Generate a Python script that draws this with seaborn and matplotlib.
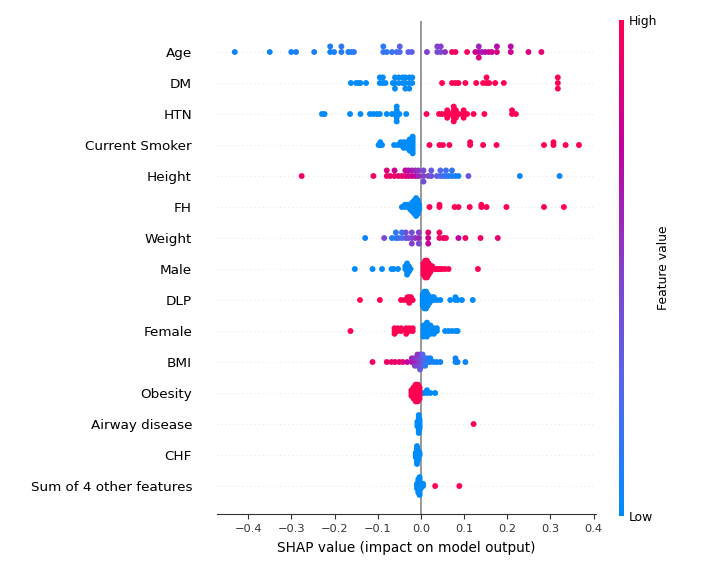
import warnings
import numpy as np
import pandas as pd
import matplotlib
matplotlib.use("Agg")
import matplotlib.pyplot as plt
import seaborn as sns
from matplotlib.colors import LinearSegmentedColormap, Normalize
from matplotlib.cm import ScalarMappable

warnings.filterwarnings("ignore")

# ---------------- data ----------------
features = ["Age", "DM", "HTN", "Current Smoker", "Height", "FH", "Weight",
            "Male", "DLP", "Female", "BMI", "Obesity", "Airway disease",
            "CHF", "Sum of 4 other features"]

# continuous features: shap value + scaled feature value (0 = low, 1 = high)
age_shap = [-0.431, -0.350, -0.300, -0.289, -0.247, -0.210, -0.210, -0.201, -0.184, -0.184,
            -0.168, -0.161, -0.155, -0.087, -0.087, -0.079, -0.067, -0.056, -0.049, -0.049,
            -0.029, -0.021, 0.014, 0.038, 0.038, 0.046, 0.046, 0.056, 0.072, 0.080,
            0.107, 0.126, 0.134, 0.134, 0.134, 0.141, 0.149, 0.157, 0.164, 0.176,
            0.176, 0.208, 0.208, 0.249, 0.279]
age_val = [0.05, 0.05, 0.08, 0.08, 0.1, 0.05, 0.1, 0.08, 0.12, 0.15,
           0.1, 0.12, 0.12, 0.15, 0.12, 0.15, 0.18, 0.2, 0.25, 0.3,
           0.28, 0.3, 0.5, 0.45, 0.48, 0.42, 0.5, 0.55, 0.95, 0.95,
           0.95, 0.8, 0.75, 0.6, 0.85, 0.65, 0.7, 0.75, 0.8, 0.85,
           0.7, 0.8, 0.7, 0.85, 0.9]

height_shap = [-0.276, -0.110, -0.079, -0.079, -0.071, -0.061, -0.061, -0.052, -0.044, -0.036,
               -0.036, -0.029, -0.029, -0.021, -0.021, -0.013, -0.013, -0.006, -0.006, 0.006,
               0.006, 0.006, 0.017, 0.024, 0.024, 0.037, 0.045, 0.045, 0.052, 0.058,
               0.058, 0.065, 0.072, 0.072, 0.080, 0.087, 0.110, 0.229, 0.321]
height_val = [0.95, 0.95, 0.95, 0.85, 0.9, 0.95, 0.8, 0.9, 0.9, 0.85,
              0.75, 0.85, 0.7, 0.8, 0.65, 0.75, 0.6, 0.6, 0.55, 0.5,
              0.45, 0.4, 0.45, 0.4, 0.35, 0.3, 0.3, 0.25, 0.2, 0.15,
              0.2, 0.1, 0.1, 0.15, 0.1, 0.05, 0.35, 0.05, 0.05]

weight_shap = [-0.129, -0.085, -0.067, -0.058, -0.058, -0.052, -0.044, -0.044, -0.035, -0.035,
               -0.029, -0.021, -0.021, -0.021, -0.013, -0.005, -0.005, -0.005, 0.017, 0.017,
               0.017, 0.043, 0.043, 0.052, 0.058, 0.087, 0.103, 0.138, 0.178]
weight_val = [0.05, 0.45, 0.1, 0.1, 0.15, 0.2, 0.2, 0.15, 0.35, 0.4,
              0.4, 0.45, 0.4, 0.5, 0.55, 0.6, 0.5, 0.45, 0.8, 0.9,
              0.75, 0.95, 0.95, 0.9, 0.95, 0.75, 0.95, 0.95, 0.9]

bmi_shap = [-0.112, -0.079, -0.068, -0.060, -0.050, -0.042, -0.032, -0.021, -0.021, -0.014,
            -0.014, -0.014, -0.008, -0.008, -0.008, -0.008, -0.002, -0.002, -0.002, -0.002,
            -0.002, 0.004, 0.004, 0.004, 0.004, 0.010, 0.010, 0.010, 0.016, 0.016,
            0.022, 0.022, 0.030, 0.037, 0.045, 0.080, 0.080, 0.085, 0.103]
bmi_val = [0.95, 0.95, 0.9, 0.95, 0.9, 0.9, 0.75, 0.7, 0.6, 0.65,
           0.55, 0.5, 0.6, 0.5, 0.45, 0.55, 0.5, 0.4, 0.45, 0.55,
           0.35, 0.4, 0.3, 0.35, 0.25, 0.2, 0.25, 0.15, 0.1, 0.15,
           0.1, 0.05, 0.05, 0.05, 0.05, 0.05, 0.05, 0.05, 0.05]

# binary features: shap values of the low (0) and high (1) group
dm_low = [-0.162, -0.150, -0.145, -0.140, -0.127, -0.095, -0.095, -0.088, -0.088, -0.082,
          -0.065, -0.060, -0.060, -0.060, -0.051, -0.051, -0.042, -0.042, -0.036, -0.036,
          -0.036, -0.027, -0.027, -0.027, -0.020, -0.020]
dm_high = [0.049, 0.072, 0.080, 0.087, 0.103, 0.128, 0.144, 0.152, 0.152, 0.158,
           0.172, 0.192, 0.317, 0.317, 0.317]

htn_low = [-0.229, -0.223, -0.164, -0.140, -0.118, -0.110, -0.102, -0.095, -0.079, -0.067,
           -0.060, -0.056, -0.056, -0.056, -0.056, -0.056, -0.050, -0.034]
htn_high = [0.013, 0.042, 0.049, 0.057, 0.061, 0.061, 0.061, 0.068, 0.076, 0.076,
            0.076, 0.076, 0.076, 0.081, 0.081, 0.081, 0.088, 0.099, 0.099, 0.099,
            0.107, 0.122, 0.147, 0.211, 0.211, 0.220]

smoker_low = [-0.098, -0.094, -0.094, -0.090, -0.062, -0.054, -0.047, -0.047, -0.040, -0.040,
              -0.040, -0.033, -0.033, -0.033, -0.026, -0.026, -0.026, -0.026, -0.026, -0.019,
              -0.019, -0.019, -0.019, -0.019, -0.019, -0.019]
smoker_high = [0.020, 0.043, 0.051, 0.066, 0.114, 0.114, 0.144, 0.175, 0.285, 0.307,
               0.307, 0.335, 0.366]

fh_low = [-0.044, -0.037, -0.037, -0.030, -0.030, -0.025, -0.025, -0.025,
          -0.020, -0.020, -0.020, -0.020, -0.020,
          -0.015, -0.015, -0.015, -0.015, -0.015, -0.015, -0.015,
          -0.011, -0.011, -0.011, -0.011, -0.011, -0.011, -0.011, -0.011, -0.011,
          -0.007, -0.007, -0.007, -0.007, -0.007, -0.007, -0.007,
          -0.004, -0.004, -0.004]
fh_high = [0.020, 0.043, 0.043, 0.078, 0.087, 0.113, 0.140, 0.140, 0.152, 0.198,
           0.285, 0.331]

male_low = [-0.153, -0.112, -0.090, -0.068, -0.063, -0.053, -0.036, -0.036,
            -0.032, -0.032, -0.032, -0.032, -0.032, -0.028, -0.028, -0.028, -0.024]
male_high = [0.006, 0.006, 0.006, 0.006, 0.006,
             0.010, 0.010, 0.010, 0.010, 0.010, 0.010, 0.010,
             0.014, 0.014, 0.014, 0.014, 0.014, 0.014, 0.014,
             0.018, 0.018, 0.018, 0.018, 0.018,
             0.022, 0.022, 0.022, 0.026, 0.026,
             0.033, 0.037, 0.041, 0.045, 0.049, 0.056, 0.064, 0.132]

dlp_low = [0.004, 0.004, 0.004, 0.004, 0.004,
           0.008, 0.008, 0.008, 0.008, 0.008, 0.008, 0.008,
           0.012, 0.012, 0.012, 0.012, 0.012, 0.012, 0.012,
           0.016, 0.016, 0.016, 0.016, 0.016,
           0.020, 0.020, 0.020, 0.026, 0.026, 0.030, 0.030,
           0.037, 0.045, 0.068, 0.080, 0.080, 0.085, 0.095, 0.120]
dlp_high = [-0.141, -0.095, -0.046, -0.038, -0.031, -0.031, -0.027, -0.027, -0.027,
            -0.023, -0.023, -0.019]

female_low = [0.006, 0.006, 0.006, 0.006, 0.006,
              0.014, 0.014, 0.014, 0.014, 0.014, 0.014,
              0.022, 0.022, 0.022, 0.022, 0.030, 0.030, 0.030, 0.037, 0.037,
              0.056, 0.064, 0.072, 0.080, 0.085]
female_high = [-0.163, -0.061, -0.061, -0.061, -0.054, -0.054, -0.046, -0.046,
               -0.034, -0.034, -0.034, -0.027, -0.027, -0.019, -0.019]

obesity_low = [0.006, 0.014, 0.014, 0.022, 0.033]
obesity_high = [-0.022, -0.022, -0.022,
                -0.017, -0.017, -0.017, -0.017, -0.017,
                -0.012, -0.012, -0.012, -0.012, -0.012, -0.012, -0.012,
                -0.007, -0.007, -0.007, -0.007, -0.007, -0.007, -0.007,
                -0.003, -0.003, -0.003, -0.003, -0.003]

airway_low = [-0.008, -0.008, -0.008,
              -0.005, -0.005, -0.005, -0.005, -0.005, -0.005, -0.005, -0.005, -0.005,
              -0.003, -0.003, -0.003, -0.003, -0.003]
airway_high = [0.122]

chf_low = [-0.012, -0.012, -0.012,
           -0.009, -0.009, -0.009, -0.009, -0.009, -0.009, -0.009, -0.009, -0.009,
           -0.006, -0.006, -0.006, -0.006, -0.006, -0.003, -0.003]
chf_high = []

other_low = [-0.009, -0.009, -0.009,
             -0.006, -0.006, -0.006, -0.006, -0.006, -0.006, -0.006,
             -0.003, -0.003, -0.003, -0.003, -0.003, -0.003, -0.003, -0.003, -0.003,
             0.000, 0.000, 0.000, 0.005, 0.005]
other_high = [0.033, 0.089]

# ---------------- long table ----------------
continuous = {
    "Age": (age_shap, age_val),
    "Height": (height_shap, height_val),
    "Weight": (weight_shap, weight_val),
    "BMI": (bmi_shap, bmi_val),
}
binary = {
    "DM": (dm_low, dm_high),
    "HTN": (htn_low, htn_high),
    "Current Smoker": (smoker_low, smoker_high),
    "FH": (fh_low, fh_high),
    "Male": (male_low, male_high),
    "DLP": (dlp_low, dlp_high),
    "Female": (female_low, female_high),
    "Obesity": (obesity_low, obesity_high),
    "Airway disease": (airway_low, airway_high),
    "CHF": (chf_low, chf_high),
    "Sum of 4 other features": (other_low, other_high),
}


def swarm_offsets(vals, nbins=100, row_height=0.4):
    # shap-style beeswarm: stack points that fall in the same bin
    vals = np.asarray(vals, dtype=float)
    span = vals.max() - vals.min() + 1e-8
    quant = np.round(nbins * (vals - vals.min()) / span)
    order = np.argsort(quant, kind="stable")
    ys = np.zeros(len(vals))
    layer, last = 0, None
    for i in order:
        if quant[i] != last:
            layer = 0
        ys[i] = np.ceil(layer / 2) * ((layer % 2) * 2 - 1)
        layer += 1
        last = quant[i]
    ys *= 0.9 * (row_height / np.max(ys + 1))
    return ys


frames = []
for row, name in enumerate(features):
    if name in continuous:
        s, v = continuous[name]
        sub = pd.DataFrame({"shap": s, "value": v})
    else:
        lo, hi = binary[name]
        sub = pd.DataFrame({"shap": lo + hi,
                            "value": [0.0] * len(lo) + [1.0] * len(hi)})
    sub["feature"] = name
    sub["ypos"] = row - swarm_offsets(sub["shap"])
    frames.append(sub)
df = pd.concat(frames, ignore_index=True)

shap_cmap = LinearSegmentedColormap.from_list(
    "shap_red_blue",
    ["#008bfb", "#5268ee", "#8440cc", "#c2009f", "#ff0052"])

# ---------------- plot ----------------
fig = plt.figure(figsize=(7.21, 5.84), dpi=100)
ax = fig.add_axes([0.301, 0.120, 0.526, 0.844])

for i in range(len(features)):
    ax.axhline(i, color="#cccccc", lw=0.5, dashes=(1, 5), zorder=-1)
ax.axvline(0, color="#999999", lw=1.4, zorder=-1)

sns.scatterplot(data=df, x="shap", y="ypos", hue="value", palette=shap_cmap,
                hue_norm=(0, 1), s=18, linewidth=0, legend=False, ax=ax, zorder=3)

ax.set_xlim(-0.472, 0.406)
ax.set_ylim(len(features) - 0.1, -1)
ax.set_xticks([-0.4, -0.3, -0.2, -0.1, 0.0, 0.1, 0.2, 0.3, 0.4])
ax.set_yticks(range(len(features)))
ax.set_yticklabels(features)
ax.set_ylabel("")
ax.set_xlabel("SHAP value (impact on model output)", fontsize=9.8, labelpad=5)
ax.tick_params(axis="y", length=0, labelsize=9.7, pad=18)
ax.tick_params(axis="x", labelsize=8.2, colors="#333333", labelcolor="#333333")
for side in ["top", "right", "left"]:
    ax.spines[side].set_visible(False)
ax.spines["bottom"].set_color("#333333")

cax = fig.add_axes([0.8585, 0.1164, 0.0069, 0.849])
sm = ScalarMappable(norm=Normalize(0, 1), cmap=shap_cmap)
cb = fig.colorbar(sm, cax=cax, ticks=[0, 1])
cb.set_ticklabels(["Low", "High"])
cb.ax.tick_params(length=0, labelsize=8.9)
cb.set_label("Feature value", size=8.9, labelpad=0)
cb.outline.set_visible(False)

fig.savefig("out.png", dpi=100)
